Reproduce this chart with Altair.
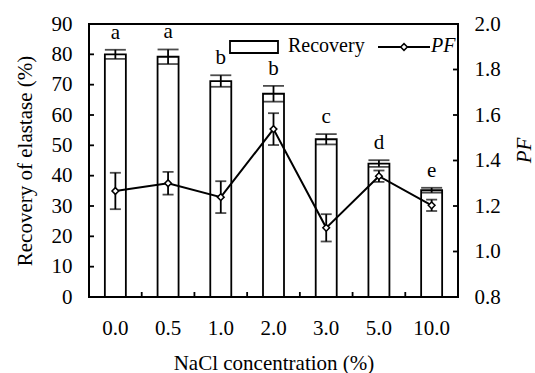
import altair as alt
import pandas as pd

cats = ["0.0", "0.5", "1.0", "2.0", "3.0", "5.0", "10.0"]
recovery = [80.0, 79.2, 71.2, 67.0, 52.0, 44.0, 35.2]
recovery_sd = [1.5, 2.4, 1.9, 2.6, 1.7, 1.1, 0.8]
letters = ["a", "a", "b", "b", "c", "d", "e"]
pf = [1.266, 1.30, 1.239, 1.538, 1.104, 1.331, 1.203]
pf_sd = [0.08, 0.05, 0.07, 0.07, 0.06, 0.025, 0.025]
left_ticks = [0, 10, 20, 30, 40, 50, 60, 70, 80, 90]
right_ticks = [0.8, 1.0, 1.2, 1.4, 1.6, 1.8, 2.0]

W, H = 369, 273
FONT = "Liberation Serif"
FS = 21

df = pd.DataFrame({
    "cat": cats, "rec": recovery, "rec_sd": recovery_sd, "letter": letters,
    "pf": pf, "pf_sd": pf_sd,
})
df["rec_lo"] = df["rec"] - df["rec_sd"]
df["rec_hi"] = df["rec"] + df["rec_sd"]
df["pf_lo"] = df["pf"] - df["pf_sd"]
df["pf_hi"] = df["pf"] + df["pf_sd"]

base = alt.Chart(df)

font_kw = dict(labelFont=FONT, titleFont=FONT, labelFontSize=FS, titleFontSize=FS,
               labelColor="black", titleColor="black", titleFontWeight="normal")

xscale = alt.Scale(paddingInner=0, paddingOuter=0)
xaxis = alt.Axis(labelAngle=0, ticks=False, domain=False, grid=False,
                 title="NaCl concentration (%)", labelPadding=20, titlePadding=14,
                 **font_kw)
lscale = alt.Scale(domain=[0, 90], nice=False, zero=False)
laxis = alt.Axis(values=left_ticks, title="Recovery of elastase (%)",
                 ticks=False, domain=False, grid=False, labelPadding=17, titlePadding=16,
                 **font_kw)
rscale = alt.Scale(domain=[0.8, 2.0], nice=False, zero=False)
raxis = alt.Axis(orient="right", values=right_ticks, format=".1f",
                 title="PF", titleFontStyle="italic", titleAngle=270, titleY=126,
                 ticks=False, domain=False, grid=False, labelPadding=16, titlePadding=34,
                 **font_kw)


def X(bp=None):
    if bp is None:
        return alt.X("cat:N", sort=cats, scale=xscale, axis=xaxis)
    return alt.X("cat:N", sort=cats, scale=xscale, axis=xaxis, bandPosition=bp)


def YL(f):
    return alt.Y(f, scale=lscale, axis=laxis)


def YR(f):
    return alt.Y(f, scale=rscale, axis=raxis)


bars = base.mark_bar(size=21, fill="white", stroke="black", strokeWidth=1.8).encode(
    x=X(), y=YL("rec:Q"))
rec_err = base.mark_rule(color="black", strokeWidth=1.8).encode(
    x=X(), y=YL("rec_lo:Q"), y2="rec_hi:Q")
rec_cap_hi = base.mark_tick(color="black", size=21, thickness=1.8).encode(
    x=X(), y=YL("rec_hi:Q"))
rec_cap_lo = base.mark_tick(color="black", size=21, thickness=1.8).encode(
    x=X(), y=YL("rec_lo:Q"))
labels = base.mark_text(font=FONT, fontSize=FS, color="black", baseline="middle", dy=-17).encode(
    x=X(), y=YL("rec_hi:Q"), text="letter:N")

ltick_df = pd.DataFrame({"rec": left_ticks[1:-1]})
lticks = alt.Chart(ltick_df).mark_rule(color="black", strokeWidth=1.8).encode(
    y=YL("rec:Q"), x=alt.value(0), x2=alt.value(5))

xtick_df = pd.DataFrame({"cat": cats[1:]})
xticks = alt.Chart(xtick_df).mark_rule(color="black", strokeWidth=1.8).encode(
    x=X(0), y=alt.value(H), y2=alt.value(H - 5))

# legend
leg_df = pd.DataFrame({"name": ["Recovery", "PF"]})
leg_rect = alt.Chart(leg_df).transform_filter("datum.name == 'Recovery'").mark_rect(
    fill="white", stroke="black", strokeWidth=1.8).encode(
    x=alt.value(141), x2=alt.value(189), y=alt.value(17), y2=alt.value(29))
leg_rec_text = alt.Chart(leg_df).transform_filter("datum.name == 'Recovery'").mark_text(
    font=FONT, fontSize=20, align="left", baseline="middle", color="black").encode(
    x=alt.value(199), y=alt.value(22), text="name:N")
leg_line = alt.Chart(leg_df).transform_filter("datum.name == 'PF'").mark_rule(
    color="black", strokeWidth=2).encode(
    x=alt.value(289), x2=alt.value(341), y=alt.value(23))
leg_pt = alt.Chart(leg_df).transform_filter("datum.name == 'PF'").mark_point(
    shape="diamond", filled=True, fill="white", stroke="black", strokeWidth=1.5,
    size=45, opacity=1).encode(x=alt.value(315), y=alt.value(23))
leg_pf_text = alt.Chart(leg_df).transform_filter("datum.name == 'PF'").mark_text(
    font=FONT, fontSize=20, fontStyle="italic", align="left", baseline="middle",
    color="black").encode(x=alt.value(342), y=alt.value(22), text="name:N")

left = alt.layer(bars, rec_err, rec_cap_hi, rec_cap_lo, labels, lticks, xticks,
                 leg_rect, leg_rec_text, leg_line, leg_pt, leg_pf_text)

pf_line = base.mark_line(color="black", strokeWidth=2).encode(x=X(), y=YR("pf:Q"))
pf_err = base.mark_rule(color="black", strokeWidth=1.8).encode(
    x=X(), y=YR("pf_lo:Q"), y2="pf_hi:Q")
pf_cap_hi = base.mark_tick(color="black", size=11, thickness=1.8).encode(
    x=X(), y=YR("pf_hi:Q"))
pf_cap_lo = base.mark_tick(color="black", size=11, thickness=1.8).encode(
    x=X(), y=YR("pf_lo:Q"))
pf_pts = base.mark_point(shape="diamond", filled=True, fill="white", stroke="black",
                         strokeWidth=1.5, size=45, opacity=1).encode(
    x=X(), y=YR("pf:Q"))
rtick_df = pd.DataFrame({"pf": right_ticks[1:-1]})
rticks = alt.Chart(rtick_df).mark_rule(color="black", strokeWidth=1.8).encode(
    y=YR("pf:Q"), x=alt.value(W), x2=alt.value(W - 5))

right = alt.layer(pf_line, pf_err, pf_cap_hi, pf_cap_lo, pf_pts, rticks)

chart = alt.layer(left, right).resolve_scale(y="independent").properties(
    width=W, height=H,
    autosize=alt.AutoSizeParams(type="none"),
    padding={"left": 89, "top": 24, "right": 77, "bottom": 76},
    background="white",
).configure_view(
    stroke="black", strokeWidth=2
).configure_axis(**font_kw)

chart.save("out.html", embed_options={"renderer": "svg", "actions": False})
